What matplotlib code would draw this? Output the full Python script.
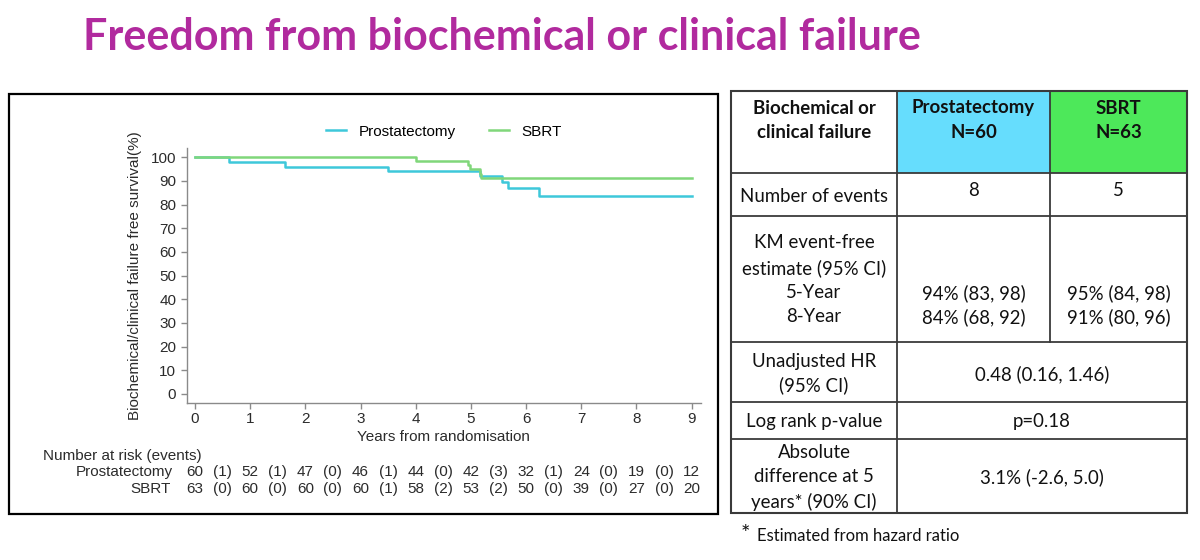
import matplotlib
matplotlib.use('Agg')
import matplotlib.pyplot as plt
import matplotlib.transforms as mtransforms
from matplotlib.patches import Rectangle

#-------------
# Data
#-------------
years = [0, 1, 2, 3, 4, 5, 6, 7, 8, 9]
y_ticks = [0, 10, 20, 30, 40, 50, 60, 70, 80, 90, 100]

# Kaplan-Meier step curves
prost_t = [0, 0.62, 1.64, 3.50, 5.16, 5.56, 5.67, 6.24, 9.0]
prost_s = [100, 98.0, 96.0, 94.0, 92.0, 89.6, 87.1, 83.6, 83.6]
sbrt_t = [0, 4.00, 4.95, 4.98, 5.16, 5.19, 9.0]
sbrt_s = [100, 98.3, 96.6, 95.0, 93.0, 91.2, 91.2]

# number at risk and events per interval
prost_risk = [60, 52, 47, 46, 44, 42, 32, 24, 19, 12]
prost_events = [1, 1, 0, 1, 0, 3, 1, 0, 0]
sbrt_risk = [63, 60, 60, 60, 58, 53, 50, 39, 27, 20]
sbrt_events = [0, 0, 0, 1, 2, 2, 0, 0, 0]

# summary table
table_header = [['Biochemical or', 'clinical failure'], ['Prostatectomy', 'N=60'], ['SBRT', 'N=63']]
n_events = ['8', '5']
km_labels = ['KM event-free', 'estimate (95% CI)', '5-Year', '8-Year']
km_prost = ['94% (83, 98)', '84% (68, 92)']
km_sbrt = ['95% (84, 98)', '91% (80, 96)']
hr_label = ['Unadjusted HR', '(95% CI)']
hr_value = '0.48 (0.16, 1.46)'
p_label = 'Log rank p-value'
p_value = 'p=0.18'
diff_label = ['Absolute', 'difference at 5', 'years* (90% CI)']
diff_value = '3.1% (-2.6, 5.0)'
footnote = 'Estimated from hazard ratio'

CYAN = '#3ec8da'
GREEN = '#80d77a'
GREY = '#8a8a8a'
TXT = '#2b2b2b'
FS = 11

plt.rcParams['font.family'] = ['Liberation Sans', 'DejaVu Sans']

fig = plt.figure(figsize=(12, 5.6), dpi=100)

# overlay in pixel coordinates for frames, title and table
ov = fig.add_axes([0, 0, 1, 1])
ov.set_xlim(0, 1200)
ov.set_ylim(560, 0)
ov.axis('off')

#---------
# KM plot
#---------
ax = fig.add_axes([186.7/1200, (560-402.7)/560, (701-186.7)/1200, (402.7-148)/560])
ax.plot(prost_t, prost_s, drawstyle='steps-post', color=CYAN, lw=1.8, label='Prostatectomy')
ax.plot(sbrt_t, sbrt_s, drawstyle='steps-post', color=GREEN, lw=1.8, label='SBRT')
ax.set_xlim(-0.15, 9.17)
ax.set_ylim(-3.7, 103.9)
ax.set_xticks(years)
ax.set_yticks(y_ticks)
for s in ['top', 'right']:
    ax.spines[s].set_visible(False)
for s in ['left', 'bottom']:
    ax.spines[s].set_color(GREY)
    ax.spines[s].set_linewidth(1.0)
ax.tick_params(colors=GREY, labelcolor=TXT, labelsize=FS, length=4, width=1.0)
ax.tick_params(axis='x', pad=2.5)
ax.set_xlabel('Years from randomisation', fontsize=FS, color=TXT, labelpad=3)
ax.set_ylabel('Biochemical/clinical failure free survival(%)', fontsize=FS, color=TXT, labelpad=6)
ax.legend(loc='lower center', bbox_to_anchor=(0.5, 1.0), ncol=2, frameon=False,
          fontsize=FS, handlelength=1.3, columnspacing=2.2, borderaxespad=0.2)

# number at risk table under the axis
tr = mtransforms.blended_transform_factory(ax.transData, ov.transData)
ov.text(43, 456, 'Number at risk (events)', fontsize=FS, color=TXT, va='center', ha='left')
ov.text(173, 472, 'Prostatectomy', fontsize=FS, color=TXT, va='center', ha='right')
ov.text(171, 489, 'SBRT', fontsize=FS, color=TXT, va='center', ha='right')
for i, yr in enumerate(years):
    ax.text(yr, 472, str(prost_risk[i]), transform=tr, fontsize=FS, color=TXT, ha='center', va='center')
    ax.text(yr, 489, str(sbrt_risk[i]), transform=tr, fontsize=FS, color=TXT, ha='center', va='center')
for i in range(len(prost_events)):
    xm = years[i] + 0.5
    ax.text(xm, 472, '(%d)' % prost_events[i], transform=tr, fontsize=FS, color=TXT, ha='center', va='center')
    ax.text(xm, 489, '(%d)' % sbrt_events[i], transform=tr, fontsize=FS, color=TXT, ha='center', va='center')

# frame round the plot
ov.add_patch(Rectangle((9, 94), 709, 420, fill=False, ec='black', lw=1.6))

#------
# Title
#------
ov.text(83, 37, 'Freedom from biochemical or clinical failure', family=['Lato', 'DejaVu Sans'],
        fontsize=31, fontweight='bold', color='#b12a9e', ha='left', va='center')

#--------------
# Summary table
#--------------
xs = [731, 897, 1050, 1187]
ys = [91, 173, 216, 342, 402, 439, 513]
LINE = '#3a3a3a'
ov.add_patch(Rectangle((xs[1], ys[0]), xs[2]-xs[1], ys[1]-ys[0], fc='#66ddfd', ec='none'))
ov.add_patch(Rectangle((xs[2], ys[0]), xs[3]-xs[2], ys[1]-ys[0], fc='#4de85a', ec='none'))
ov.add_patch(Rectangle((xs[0], ys[0]), xs[3]-xs[0], ys[-1]-ys[0], fill=False, ec=LINE, lw=1.5))
for y in ys[1:-1]:
    ov.plot([xs[0], xs[3]], [y, y], color=LINE, lw=1.3)
ov.plot([xs[1], xs[1]], [ys[0], ys[-1]], color=LINE, lw=1.3)
ov.plot([xs[2], xs[2]], [ys[0], ys[3]], color=LINE, lw=1.3)

tf = dict(family=['Lato', 'DejaVu Sans'], fontsize=13.4, color='#111111', ha='center', va='center')
c1 = (xs[0] + xs[1]) / 2
c2 = (xs[1] + xs[2]) / 2
c3 = (xs[2] + xs[3]) / 2
c23 = (xs[1] + xs[3]) / 2
for cx, lines in zip([c1, c2, c3], table_header):
    ov.text(cx, 108, lines[0], fontweight='bold', **tf)
    ov.text(cx, 133, lines[1], fontweight='bold', **tf)
ov.text(c1, 196, 'Number of events', **tf)
ov.text(c2, 191, n_events[0], **tf)
ov.text(c3, 191, n_events[1], **tf)
for k, y in enumerate([243, 268, 293, 317]):
    ov.text(c1, y, km_labels[k], **tf)
for k, y in enumerate([293, 317]):
    ov.text(c2, y, km_prost[k], **tf)
    ov.text(c3, y, km_sbrt[k], **tf)
ov.text(c1, 362, hr_label[0], **tf)
ov.text(c1, 385, hr_label[1], **tf)
ov.text(c23, 374, hr_value, **tf)
ov.text(c1, 421, p_label, **tf)
ov.text(c23, 421, p_value, **tf)
for k, y in enumerate([452, 477, 502]):
    ov.text(c1, y, diff_label[k], **tf)
ov.text(c23, 477, diff_value, **tf)

ov.text(741, 534, '*', family=['Lato', 'DejaVu Sans'], fontsize=16, color='#111111', ha='left', va='center')
ov.text(757, 536, footnote, family=['Lato', 'DejaVu Sans'], fontsize=12, color='#111111', ha='left', va='center')

fig.savefig('out.png', dpi=100)
